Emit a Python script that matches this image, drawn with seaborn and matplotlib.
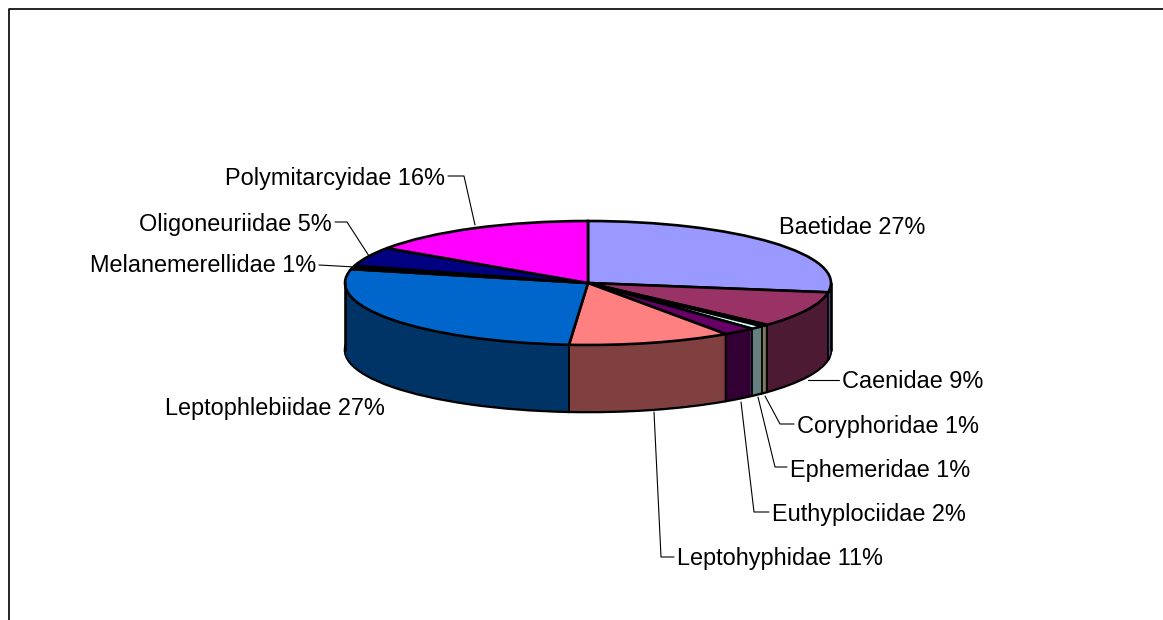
import numpy as np
import matplotlib
matplotlib.use("Agg")
import matplotlib.pyplot as plt
import seaborn as sns

families = ["Baetidae", "Caenidae", "Coryphoridae", "Ephemeridae", "Euthyplociidae",
            "Leptohyphidae", "Leptophlebiidae", "Melanemerellidae", "Oligoneuriidae", "Polymitarcyidae"]
shares = [27.4, 9.4, 0.5, 0.9, 2.2, 10.85, 27.35, 0.9, 5.0, 15.5]
top_colors = ["#9999FF", "#993366", "#FFFFCC", "#CCFFFF", "#660066",
              "#FF8080", "#0066CC", "#000000", "#000080", "#FF00FF"]

sns.set_theme(style="white")
plt.rcParams["font.family"] = ["Liberation Sans", "DejaVu Sans"]

W, H = 1163, 620
CX, CY, RX, RY, DEPTH = 588, 283, 243, 62, 67
X = lambda p: (p - CX) / RX
Y = lambda p: (CY - p) / RY

top_pal = sns.color_palette(top_colors)
side_pal = [tuple(c * 0.5 for c in col) for col in top_pal]

fig = plt.figure(figsize=(W / 100, H / 100), dpi=100, facecolor="white")
ax = fig.add_axes([0, 0, 1, 1])

# extruded wall: stacked copies of the pie, bottom one outlined
for d in range(DEPTH, 0, -1):
    ax.pie(shares, colors=side_pal, startangle=90, counterclock=False, radius=1,
           center=(0, -d / RY),
           wedgeprops=dict(linewidth=1.9, edgecolor="black") if d == DEPTH
           else dict(linewidth=0))
# top face
ax.pie(shares, colors=top_pal, startangle=90, counterclock=False, radius=1,
       center=(0, 0), wedgeprops=dict(linewidth=1.9, edgecolor="black"))

ax.set_aspect("auto")
ax.set_xlim(X(0), X(W))
ax.set_ylim(Y(H), Y(0))
ax.set_frame_on(False)

# wall separators at visible slice boundaries and silhouette edges
bounds = np.cumsum(shares) / sum(shares) * 2 * np.pi
for b in bounds:
    bx, by = np.sin(b), np.cos(b)
    if by < 0:
        ax.plot([bx, bx], [by, by - DEPTH / RY], color="black", lw=1.3, zorder=5)
for sx in (-1, 1):
    ax.plot([sx, sx], [0, -DEPTH / RY], color="black", lw=1.9, zorder=5)

labels = [
    ("Baetidae 27%", 779, 227), ("Caenidae 9%", 842, 382), ("Coryphoridae 1%", 797, 426),
    ("Ephemeridae 1%", 790, 470), ("Euthyplociidae 2%", 772, 515), ("Leptohyphidae 11%", 677, 558),
    ("Leptophlebiidae 27%", 165, 408),
]
labels_right = [
    ("Melanemerellidae 1%", 316, 265), ("Oligoneuriidae 5%", 332, 224), ("Polymitarcyidae 16%", 445, 178),
]
for t, px, py in labels:
    ax.text(X(px), Y(py), t, ha="left", va="center", fontsize=16.9, color="black")
for t, px, py in labels_right:
    ax.text(X(px), Y(py), t, ha="right", va="center", fontsize=16.9, color="black")

leaders = [
    [(448, 176), (464, 176), (475, 225)],
    [(335, 222), (347, 222), (369, 256)],
    [(319, 265), (355, 267)],
    [(839, 380), (808, 380)],
    [(794, 424), (780, 424), (765, 396)],
    [(787, 467), (775, 467), (758, 397)],
    [(769, 512), (754, 512), (741, 402)],
    [(674, 557), (661, 557), (654, 412)],
]
for pts in leaders:
    ax.plot([X(p[0]) for p in pts], [Y(p[1]) for p in pts], color="black", lw=0.8, zorder=1)

# chart-area border, cropped by the picture at right and bottom
ax.plot([X(9), X(9), X(W)], [Y(H), Y(9), Y(9)], color="black", lw=1.2, zorder=6)

fig.savefig("out.png", dpi=100, facecolor="white")
